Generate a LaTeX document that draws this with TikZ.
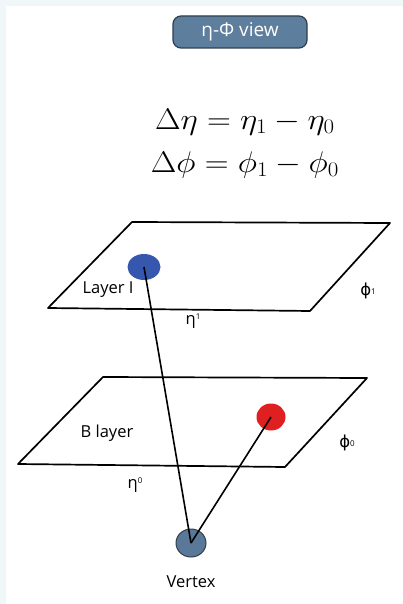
\documentclass[tikz,border=0pt]{standalone}
\usepackage{fontspec}
\setmainfont{Open Sans}
\newfontfamily\symfont{DejaVu Sans}
\usetikzlibrary{positioning,shapes.geometric,calc}

\definecolor{btnfill}{HTML}{5E7E9E}
\definecolor{btnline}{HTML}{2E3E4E}
\definecolor{hitblue}{HTML}{3557AE}
\definecolor{hitred}{HTML}{E02020}
\definecolor{vtxfill}{HTML}{5A7898}
\definecolor{edgetint}{HTML}{F0F7F9}

\newcommand{\phisym}{{\symfont ϕ}}
\newcommand{\wideeq}[1]{\scalebox{1.33}[1.2]{$#1$}}

\begin{document}
\begin{tikzpicture}[
    x=1pt, y=-1pt,
    button/.style={
      rectangle, rounded corners=8pt, draw=btnline, line width=1.2pt,
      fill=btnfill, text=white, minimum width=134pt, minimum height=32pt,
      font=\fontsize{19}{21}\selectfont
    },
    formula/.style={font=\fontsize{24}{28}\selectfont, inner sep=0pt},
    plane/.style={draw, line width=1.7pt, line join=round},
    hit/.style={ellipse, inner sep=0pt, minimum width=#1},
    lbl/.style={font=\fontsize{16.5}{18}\selectfont, inner sep=1pt},
    track/.style={draw, line width=1.6pt}
  ]
  % page and its tinted edge
  \fill[edgetint] (0,0) rectangle (403,604);
  \fill[white] (6,6) rectangle (403,604);
  \useasboundingbox (0,0) rectangle (403,604);

  \node[button] (view) at (240,32) {η-Φ view};
  \node[formula] (deta) at (245,122) {\wideeq{\Delta\eta = \eta_1 - \eta_0}};
  \node[formula] (dphi) at (245,165) {\wideeq{\Delta\phi = \phi_1 - \phi_0}};

  % layer I
  \coordinate (l1nw) at (132,222);
  \coordinate (l1ne) at (390,223);
  \coordinate (l1se) at (310,311);
  \coordinate (l1sw) at (48,308);
  \draw[plane] (l1nw) -- (l1ne) -- (l1se) -- (l1sw) -- cycle;
  % B layer
  \coordinate (l0nw) at (103,377);
  \coordinate (l0ne) at (367,378);
  \coordinate (l0se) at (285,467);
  \coordinate (l0sw) at (18,464);
  \draw[plane] (l0nw) -- (l0ne) -- (l0se) -- (l0sw) -- cycle;

  \node[hit=33pt, minimum height=26pt, fill=hitblue] (hit1) at (144,267) {};
  \node[hit=29pt, minimum height=27pt, fill=hitred] (hit0) at (271,417) {};
  \node[hit=30pt, minimum height=28pt, fill=vtxfill, draw=btnline, line width=1pt] (vertex) at (191,543) {};

  \draw[track] (hit1.center) -- (vertex.center);
  \draw[track] (hit0.center) -- (vertex.center);

  \node[lbl] (layer1) at (108,290) {Layer I};
  \node[lbl] (phi1) at (368,291) {\phisym\raisebox{0.1ex}{\footnotesize 1}};
  \node[lbl] (eta1) at (193,321) {η\raisebox{0.6ex}{\footnotesize 1}};
  \node[lbl] (layer0) at (107,433) {B layer};
  \node[lbl] (phi0) at (347,443) {\phisym\raisebox{0.1ex}{\footnotesize 0}};
  \node[lbl] (eta0) at (135,485) {η\raisebox{0.6ex}{\footnotesize 0}};
  \node[lbl, below=17pt of vertex] (vtxlbl) {Vertex};
\end{tikzpicture}
\end{document}
